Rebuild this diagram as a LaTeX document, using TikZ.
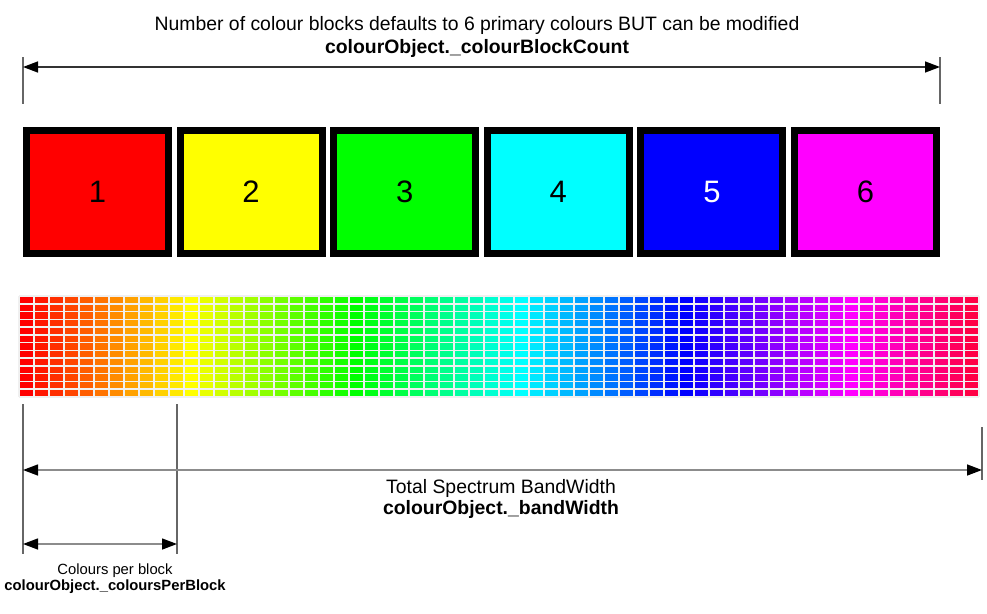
\documentclass[tikz,border=0pt]{standalone}
\usepackage{fontspec}
\setmainfont{Liberation Sans}
\usetikzlibrary{arrows.meta}
\definecolor{blkred}{RGB}{255,0,0}
\definecolor{blkyellow}{RGB}{255,255,0}
\definecolor{blkgreen}{RGB}{0,255,0}
\definecolor{blkcyan}{RGB}{0,255,255}
\definecolor{blkblue}{RGB}{0,0,255}
\definecolor{blkmagenta}{RGB}{255,0,255}

\begin{document}
\begin{tikzpicture}[
    x=1pt, y=-1pt,
    block/.style={rectangle, draw=black, line width=7pt, minimum width=142pt, minimum height=123pt, inner sep=0pt, font=\fontsize{31}{33}\selectfont},
    dim/.style={{Triangle[length=15pt,width=11pt,color=black]}-{Triangle[length=15pt,width=11pt,color=black]}, line width=1.4pt},
    tick/.style={line width=1.2pt, draw=black!60},
    dimtext/.style={font=\fontsize{19.4}{23}\selectfont, align=center},
    smalltext/.style={font=\fontsize{14.8}{16}\selectfont, align=center}
]
    \useasboundingbox (0,0) rectangle (987,613);

    % Top dimension
    \node[dimtext] (countText) at (477,36.5) {Number of colour blocks defaults to 6 primary colours BUT can be modified\\\textbf{colourObject.\_colourBlockCount}};
    \coordinate (topL) at (23,67);
    \coordinate (topR) at (940,67);
    \coordinate (topLa) at (23,57);
    \coordinate (topLb) at (23,104);
    \coordinate (topRa) at (940,57);
    \coordinate (topRb) at (940,104);
    \draw[tick] (topLa) -- (topLb);
    \draw[tick] (topRa) -- (topRb);
    \draw[dim, draw=black!80] (topL) -- (topR);

    % Colour blocks
    \foreach \i/\col/\txt in {1/blkred/black, 2/blkyellow/black, 3/blkgreen/black, 4/blkcyan/black, 5/blkblue/white, 6/blkmagenta/black} {
        \node[block, fill=\col, text=\txt] (block\i) at ({97.5+153.6*(\i-1)},192) {\i};
    }

    % Spectrum grid
    \foreach \c in {0,...,63} {
        \pgfmathsetmacro\hue{\c*5.4545}
        \definecolor{cellcol}{Hsb}{\hue,1,1}
        \fill[cellcol] ({19+15*\c},296) rectangle ({34+15*\c},397);
    }
    \foreach \c in {0,...,64} {
        \draw[white!88!gray, line width=1.5pt] ({19+15*\c},296) -- ({19+15*\c},397);
    }
    \foreach \r in {0,...,13} {
        \draw[white!88!gray, line width=1.5pt] (19,{296+101/13*\r}) -- (979,{296+101/13*\r});
    }

    % Bottom dimensions
    \coordinate (lineLa) at (23,404);
    \coordinate (lineLb) at (23,554);
    \coordinate (lineBa) at (177,404);
    \coordinate (lineBb) at (177,554);
    \coordinate (bandRa) at (982,427);
    \coordinate (bandRb) at (982,480);
    \coordinate (bandL) at (23,470);
    \coordinate (bandR) at (982,470);
    \coordinate (perL) at (23,544);
    \coordinate (perR) at (177,544);
    \draw[tick] (lineLa) -- (lineLb);
    \draw[tick] (lineBa) -- (lineBb);
    \draw[tick] (bandRa) -- (bandRb);
    \draw[dim, draw=black!45] (bandL) -- (bandR);
    \draw[dim, draw=black!45] (perL) -- (perR);

    \node[dimtext, font=\fontsize{19.4}{21}\selectfont] (bandText) at (501,498.5) {Total Spectrum BandWidth\\\textbf{colourObject.\_bandWidth}};
    \node[smalltext] (perText) at (115,578.5) {Colours per block\\\textbf{colourObject.\_coloursPerBlock}};

\end{tikzpicture}
\end{document}
